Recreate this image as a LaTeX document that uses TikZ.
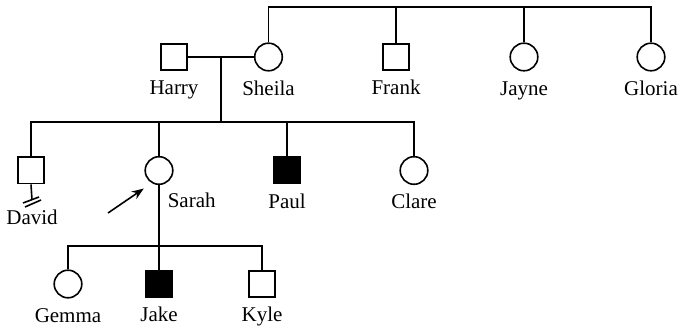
\documentclass[tikz,border=0pt]{standalone}
\usepackage{fontspec}
\setmainfont{Liberation Serif}
\usetikzlibrary{positioning, arrows.meta}

\begin{document}
\begin{tikzpicture}[x=0.5pt, y=-0.5pt, line width=0.8pt, >={Stealth[length=6pt, width=4.5pt]},
    male/.style={draw, rectangle, minimum size=13.2pt, inner sep=0pt},
    female/.style={draw, circle, minimum size=13.8pt, inner sep=0pt},
    affected/.style={fill=black},
    tag/.style={font=\fontsize{10.5}{12}\selectfont, inner sep=0pt, text height=7pt, text depth=2pt}]
        \useasboundingbox (0,0) rectangle (679,330);

        % 第一代
        \node[male] (harry) at (174,57) {};
        \node[female] (sheila) at (268.5,57) {};
        \node[male] (frank) at (396,57) {};
        \node[female] (jayne) at (524,57) {};
        \node[female] (gloria) at (651,57) {};
        \coordinate (sibA) at (651,7);

        \draw (sheila.north) |- (sibA) -- (gloria.north);
        \foreach \p in {frank, jayne}
            \draw (\p.north) -- (\p.north |- sibA);
        \draw (harry.east) -- node[coordinate] (mateA) {} (sheila.west);

        % 第二代
        \node[male] (david) at (31,170.5) {};
        \node[female] (sarah) at (159,170.5) {};
        \node[male, affected] (paul) at (287,170.5) {};
        \node[female] (clare) at (414,170.5) {};
        \coordinate (sibB) at (0,122);

        \draw (mateA) -- (mateA |- sibB);
        \draw (david.north) |- (clare.north |- sibB) -- (clare.north);
        \foreach \p in {sarah, paul}
            \draw (\p.north) -- (\p.north |- sibB);

        % David 的双斜线
        \coordinate (davidEnd) at (32,200);
        \draw (david.south) -- (davidEnd);
        \draw (davidEnd) ++(-9,3) -- ++(16,-6);
        \draw (davidEnd) ++(-7,7) -- ++(16,-7);

        % 先证者箭头
        \coordinate (pointer) at (108,213);
        \draw[->, shorten >=4.8pt] (pointer) -- (sarah.240);

        % 第三代
        \node[female] (gemma) at (68,284) {};
        \node[male, affected] (jake) at (159,284) {};
        \node[male] (kyle) at (262,284) {};
        \coordinate (sibC) at (0,246);

        \draw (sarah.south) -- (sarah.south |- sibC);
        \draw (gemma.north) |- (kyle.north |- sibC) -- (kyle.north);
        \draw (jake.north) -- (jake.north |- sibC);

        % 名字
        \foreach \p/\t in {harry/Harry, sheila/Sheila, frank/Frank, jayne/Jayne, gloria/Gloria,
                paul/Paul, clare/Clare, gemma/Gemma, jake/Jake, kyle/Kyle}
            \node[tag, below=4.5pt of \p] (\p L) {\t};
        \node[tag, below=5pt of davidEnd] (davidL) {David};
        \node[tag, anchor=north west] (sarahL) at ([xshift=4pt, yshift=-4pt]sarah.south) {Sarah};

    \end{tikzpicture}
\end{document}
